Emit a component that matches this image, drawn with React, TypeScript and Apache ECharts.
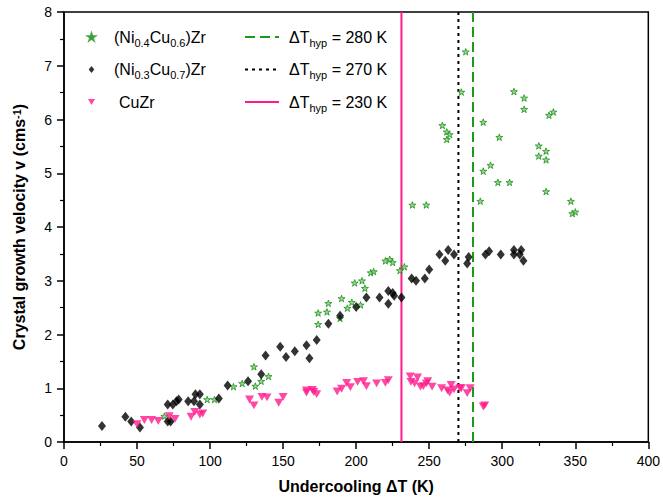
import React, { useEffect, useRef } from "react";
import * as echarts from "echarts";

// (Ni0.4Cu0.6)Zr : [undercooling K, velocity cm/s]
const niCu46: number[][] = [
  [68.7, 0.48], [98, 0.79], [103, 0.79], [116, 1.03], [122, 1.09], [130, 1.4], [131, 1.04],
  [135, 1.13], [140, 1.22], [174, 2.4], [174, 2.19], [180, 2.42], [181, 2.58], [189, 2.3],
  [190, 2.67], [194, 2.49], [197, 2.6], [199, 2.96], [203, 2.55], [204, 3.0], [206, 2.86],
  [210, 3.15], [212, 3.17], [220, 3.37], [223, 3.4], [225, 3.34], [230, 3.19], [233, 3.26],
  [238.5, 4.41], [248, 4.41], [259, 5.89], [262, 5.77], [262, 5.63], [264, 5.72], [272, 6.51],
  [275, 7.26], [285, 4.48], [287, 5.04], [287, 5.95], [292, 5.15], [297, 4.83], [298, 5.67],
  [305, 4.83], [308, 6.52], [315, 6.4], [315, 6.19], [325, 5.51], [325, 5.32], [330, 5.41],
  [330, 5.25], [330, 4.66], [332, 6.08], [335, 6.14], [347, 4.48], [348, 4.25], [350, 4.28],
];

// (Ni0.3Cu0.7)Zr
const niCu37: number[][] = [
  [26, 0.3], [42, 0.47], [46, 0.38], [52, 0.27], [71, 0.7], [71, 0.38], [73, 0.38], [74.5, 0.7],
  [77, 0.76], [78.5, 0.79], [85, 0.76], [89, 0.76], [90, 0.89], [93, 0.89], [93, 0.7], [106, 0.81],
  [112, 1.05], [126, 1.13], [135, 1.26], [138, 1.61], [148, 1.77], [152, 1.58], [158, 1.69],
  [166, 1.8], [168, 1.56], [173, 1.9], [181, 2.2], [189, 2.35], [200, 2.51], [207, 2.69],
  [216, 2.69], [222, 2.57], [222, 2.81], [225, 2.77], [226, 2.72], [231, 2.69], [238, 3.04],
  [241, 3.0], [247, 3.04], [250, 3.21], [257, 3.49], [261, 3.37], [263, 3.57], [267, 3.49],
  [276, 3.32], [277, 3.44], [288.5, 3.49], [291, 3.55], [299, 3.49], [308, 3.57], [308, 3.49],
  [312, 3.49], [313, 3.57], [314.5, 3.37],
];

// CuZr
const cuZr: number[][] = [
  [50, 0.33], [55, 0.41], [60, 0.41], [64.5, 0.39], [72, 0.48], [76, 0.43], [87, 0.47],
  [89.5, 0.56], [93, 0.51], [95, 0.53], [127, 0.79], [130, 0.68], [135.5, 0.84], [139, 0.83],
  [147, 0.73], [150, 0.84], [166, 0.96], [166, 0.92], [170, 0.97], [171, 0.93], [173, 0.89],
  [187, 0.94], [190, 0.99], [193.5, 1.1], [196, 1.02], [201, 1.12], [205, 1.13], [207, 1.04],
  [214, 1.09], [220, 1.1], [222, 1.15], [237, 1.22], [237.5, 1.12], [240, 1.09], [242, 1.2],
  [244, 1.03], [246, 1.04], [248, 1.09], [249, 1.13], [252, 1.03], [258.5, 1.0], [262.5, 0.96],
  [264, 0.92], [265, 1.06], [267, 0.98], [271, 1.0], [272, 1.0], [276, 0.91], [278, 1.0],
  [287, 0.66], [288, 0.68],
];

// hypercooling limits (K) and line positions
const hypLabels = ["280", "270", "230"];
const hypPositions = [280, 270, 231];
const yRange = [0, 8];
const xRange = [0, 400];

const scatterNames = ["(Ni0.4Cu0.6)Zr", "(Ni0.3Cu0.7)Zr", "CuZr"];
const lineNames = hypLabels.map((v) => `ΔThyp = ${v} K`);

const STAR =
  "path://M5,0 L6.2,3.6 L10,3.6 L6.9,5.9 L8.1,9.5 L5,7.3 L1.9,9.5 L3.1,5.9 L0,3.6 L3.8,3.6 Z";
const TRI_DOWN = "path://M0,0 L10,0 L5,8.7 Z";
const DIAMOND = "path://M4,0 L8,5 L4,10 L0,5 Z";

const FONT = "'Liberation Sans', Arial, sans-serif";

export default function App() {
  const ref = useRef<HTMLDivElement>(null);
  useEffect(() => {
    document.body.style.margin = "0";
    const chart = echarts.init(ref.current!, undefined, { renderer: "svg" });
    const base = { fontSize: 16, lineHeight: 22, fontFamily: FONT, color: "#000" };
    const richText = {
      a: { ...base },
      f: { ...base, padding: [0, 0, 0, 14] },
      c: { ...base, padding: [0, 0, 0, 19] },
      d: { ...base, padding: [0, 0, 0, 5] },
      s: { fontSize: 11, lineHeight: 11, fontFamily: FONT, color: "#000", verticalAlign: "bottom" },
    };
    const fmtScatter = (name: string) => {
      if (name === "CuZr") return "{c|CuZr}";
      const m = name.match(/\(Ni([\d.]+)Cu([\d.]+)\)Zr/);
      if (!m) return name;
      return `{f|(Ni}{s|${m[1]}}{a|Cu}{s|${m[2]}}{a|)Zr}`;
    };
    const fmtLine = (name: string) => {
      const m = name.match(/= (\d+) K/);
      return `{d|ΔT}{s|hyp}{a| = ${m ? m[1] : ""} K}`;
    };
    const lineStyles = [
      { color: "#1a9a1a", type: [10, 5], width: 2 },
      { color: "#000000", type: [3, 4], width: 2 },
      { color: "#ff1a8c", type: "solid", width: 2 },
    ];
    const option: any = {
      animation: false,
      grid: {
        left: 64,
        right: 12,
        top: 12,
        bottom: 58,
        show: true,
        borderColor: "#000",
        borderWidth: 1.5,
      },
      legend: [
        {
          data: scatterNames,
          orient: "vertical",
          left: 87,
          top: 29,
          padding: 0,
          itemGap: 13.5,
          itemWidth: 7,
          itemHeight: 7,
          formatter: fmtScatter,
          textStyle: { rich: richText },
          selectedMode: false,
        },
        {
          data: lineNames,
          orient: "vertical",
          left: 244,
          top: 29,
          padding: 0,
          itemGap: 13.5,
          itemWidth: 34,
          itemHeight: 12,
          formatter: fmtLine,
          itemStyle: { opacity: 0 },
          textStyle: { rich: richText },
          selectedMode: false,
        },
      ],
      xAxis: {
        type: "value",
        min: xRange[0],
        max: xRange[1],
        interval: 50,
        name: "Undercooling ΔT (K)",
        nameLocation: "middle",
        nameGap: 36,
        nameTextStyle: { fontSize: 16, fontWeight: "bold", fontFamily: FONT, color: "#000" },
        axisLine: { onZero: false, lineStyle: { color: "#000", width: 1.5 } },
        axisTick: { show: true, length: 7, lineStyle: { color: "#000", width: 1.5 } },
        minorTick: { show: true, splitNumber: 2, length: 4, lineStyle: { color: "#000", width: 1.2 } },
        axisLabel: { fontSize: 14, fontFamily: FONT, color: "#000", margin: 12 },
        splitLine: { show: false },
      },
      yAxis: {
        type: "value",
        min: yRange[0],
        max: yRange[1],
        interval: 1,
        name: "Crystal growth velocity v (cms{sup|-1})",
        nameLocation: "middle",
        nameGap: 37,
        nameTextStyle: {
          fontSize: 16,
          fontWeight: "bold",
          fontFamily: FONT,
          color: "#000",
          rich: {
            sup: { fontSize: 11, fontWeight: "bold", fontFamily: FONT, color: "#000", verticalAlign: "top", lineHeight: 11 },
          },
        },
        axisLine: { onZero: false, lineStyle: { color: "#000", width: 1.5 } },
        axisTick: { show: true, length: 7, lineStyle: { color: "#000", width: 1.5 } },
        minorTick: { show: true, splitNumber: 2, length: 4, lineStyle: { color: "#000", width: 1.2 } },
        axisLabel: { fontSize: 14, fontFamily: FONT, color: "#000", margin: 12 },
        splitLine: { show: false },
      },
      series: [
        ...lineNames.map((n, i) => ({
          name: n,
          type: "line",
          data: [
            [hypPositions[i], yRange[0]],
            [hypPositions[i], yRange[1]],
          ],
          symbol: "none",
          showSymbol: false,
          lineStyle: lineStyles[i],
          itemStyle: { color: lineStyles[i].color },
          silent: true,
          z: 1,
        })),
        {
          name: scatterNames[0],
          type: "scatter",
          data: niCu46,
          symbol: STAR,
          symbolKeepAspect: true,
          symbolSize: 7,
          itemStyle: { color: "#7fcf6f", borderColor: "#1f8f1f", borderWidth: 1 },
          z: 3,
        },
        {
          name: scatterNames[1],
          type: "scatter",
          data: niCu37,
          symbol: DIAMOND,
          symbolKeepAspect: true,
          symbolSize: 10,
          itemStyle: { color: "#000" },
          z: 3,
        },
        {
          name: scatterNames[2],
          type: "scatter",
          data: cuZr,
          symbol: TRI_DOWN,
          symbolKeepAspect: true,
          symbolSize: 9,
          itemStyle: { color: "#ff1a8c" },
          z: 3,
        },
      ],
    };
    chart.setOption(option);
    return () => chart.dispose();
  }, []);
  return <div ref={ref} style={{ width: 663, height: 500 }} />;
}
